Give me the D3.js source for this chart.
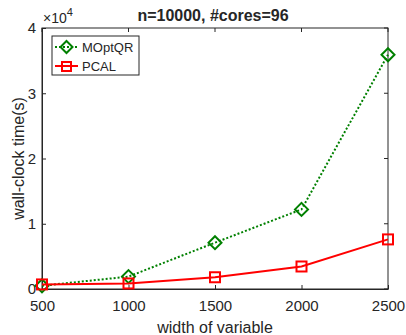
<!DOCTYPE html>
<html>
<head>
<meta charset="utf-8">
<script src="https://cdn.jsdelivr.net/npm/d3@7"></script>
<style>
  body { margin: 0; background: #fff; }
  text { font-family: "Liberation Sans", Arial, sans-serif; fill: #262626; }
</style>
</head>
<body>
<svg id="chart" width="406" height="335"></svg>
<script>
// data
var widths = [500, 1000, 1500, 2000, 2500];
var moptqr = [500, 1900, 7100, 12200, 35900];
var pcal = [700, 850, 1800, 3450, 7600];
var yTicks = [0, 1, 2, 3, 4];

var svg = d3.select("#chart");
var margin = { left: 42, right: 18, top: 28, bottom: 46 };
var W = 406, H = 335;

var x = d3.scaleLinear().domain([500, 2500]).range([margin.left, W - margin.right]);
var y = d3.scaleLinear().domain([0, 40000]).range([H - margin.bottom, margin.top]);

var axisColor = "#262626";
var fontFam = "Liberation Sans, Arial, sans-serif";

// box
svg.append("rect")
  .attr("x", x(500)).attr("y", y(40000))
  .attr("width", x(2500) - x(500)).attr("height", y(0) - y(40000))
  .attr("fill", "none").attr("stroke", axisColor).attr("stroke-width", 1);

// x axis (ticks inward)
var xAxis = svg.append("g")
  .attr("transform", "translate(0," + y(0) + ")")
  .call(d3.axisBottom(x).tickValues(widths).tickFormat(d3.format("d"))
    .tickSizeInner(-4).tickSizeOuter(0).tickPadding(11));
xAxis.select(".domain").attr("stroke", axisColor);
xAxis.selectAll("line").attr("stroke", axisColor);
xAxis.selectAll("text").attr("font-size", "15px").attr("fill", axisColor)
  .style("font-family", fontFam);

// top ticks
svg.append("g").selectAll("line").data(widths).enter().append("line")
  .attr("x1", function(d) { return x(d); }).attr("x2", function(d) { return x(d); })
  .attr("y1", y(40000)).attr("y2", y(40000) + 4)
  .attr("stroke", axisColor);

// y axis
var yAxis = svg.append("g")
  .attr("transform", "translate(" + x(500) + ",0)")
  .call(d3.axisLeft(y).tickValues(yTicks.map(function(d) { return d * 10000; }))
    .tickFormat(function(d) { return d / 10000; })
    .tickSizeInner(-4).tickSizeOuter(0).tickPadding(6));
yAxis.select(".domain").attr("stroke", axisColor);
yAxis.selectAll("line").attr("stroke", axisColor);
yAxis.selectAll("text").attr("font-size", "15px").attr("fill", axisColor)
  .style("font-family", fontFam);

// right ticks
svg.append("g").selectAll("line").data(yTicks).enter().append("line")
  .attr("x1", x(2500)).attr("x2", x(2500) - 4)
  .attr("y1", function(d) { return y(d * 10000); }).attr("y2", function(d) { return y(d * 10000); })
  .attr("stroke", axisColor);

// exponent label
var ex = svg.append("text").attr("x", 43).attr("y", 23).attr("font-size", "14px");
ex.append("tspan").text("\u00d710");
ex.append("tspan").attr("dy", -7).attr("font-size", "11px").text("4");

// title
svg.append("text").attr("x", 213).attr("y", 21).attr("text-anchor", "middle")
  .attr("font-size", "16px").attr("font-weight", "bold").attr("fill", "#000")
  .text("n=10000, #cores=96");

// axis labels
svg.append("text").attr("x", x(1500)).attr("y", 333).attr("text-anchor", "middle")
  .attr("font-size", "16px").text("width of variable");
svg.append("text").attr("transform", "translate(24," + y(20000) + ") rotate(-90)")
  .attr("text-anchor", "middle").attr("font-size", "16px").text("wall-clock time(s)");

var line = d3.line().x(function(d, i) { return x(widths[i]); }).y(function(d) { return y(d); });
var green = "#008000", red = "#ff0000";

// MOptQR
svg.append("path").datum(moptqr).attr("d", line)
  .attr("fill", "none").attr("stroke", green).attr("stroke-width", 2).attr("stroke-dasharray", "2,2");
var diamond = function(cx, cy, r) {
  return "M" + cx + "," + (cy - r) + "L" + (cx + r) + "," + cy + "L" + cx + "," + (cy + r) + "L" + (cx - r) + "," + cy + "Z";
};
svg.append("g").selectAll("path").data(moptqr).enter().append("path")
  .attr("d", function(d, i) { return diamond(x(widths[i]), y(d), 6.5); })
  .attr("fill", "none").attr("stroke", green).attr("stroke-width", 2);

// PCAL
svg.append("path").datum(pcal).attr("d", line)
  .attr("fill", "none").attr("stroke", red).attr("stroke-width", 2);
svg.append("g").selectAll("rect").data(pcal).enter().append("rect")
  .attr("x", function(d, i) { return x(widths[i]) - 5; })
  .attr("y", function(d) { return y(d) - 5; })
  .attr("width", 10).attr("height", 10)
  .attr("fill", "none").attr("stroke", red).attr("stroke-width", 2);

// legend
var lg = svg.append("g");
lg.append("rect").attr("x", 52).attr("y", 36).attr("width", 87).attr("height", 39)
  .attr("fill", "#fff").attr("stroke", axisColor).attr("stroke-width", 1);
lg.append("line").attr("x1", 55).attr("x2", 78).attr("y1", 47).attr("y2", 47)
  .attr("stroke", green).attr("stroke-width", 2).attr("stroke-dasharray", "2,2");
lg.append("path").attr("d", diamond(66.5, 47, 6)).attr("fill", "none").attr("stroke", green).attr("stroke-width", 2);
lg.append("text").attr("x", 82).attr("y", 52).attr("font-size", "13px").attr("fill", "#000").text("MOptQR");
lg.append("line").attr("x1", 55).attr("x2", 78).attr("y1", 66).attr("y2", 66)
  .attr("stroke", red).attr("stroke-width", 2);
lg.append("rect").attr("x", 62).attr("y", 62).attr("width", 9).attr("height", 9)
  .attr("fill", "none").attr("stroke", red).attr("stroke-width", 2);
lg.append("text").attr("x", 82).attr("y", 71).attr("font-size", "13px").attr("fill", "#000").text("PCAL");
</script>
</body>
</html>
